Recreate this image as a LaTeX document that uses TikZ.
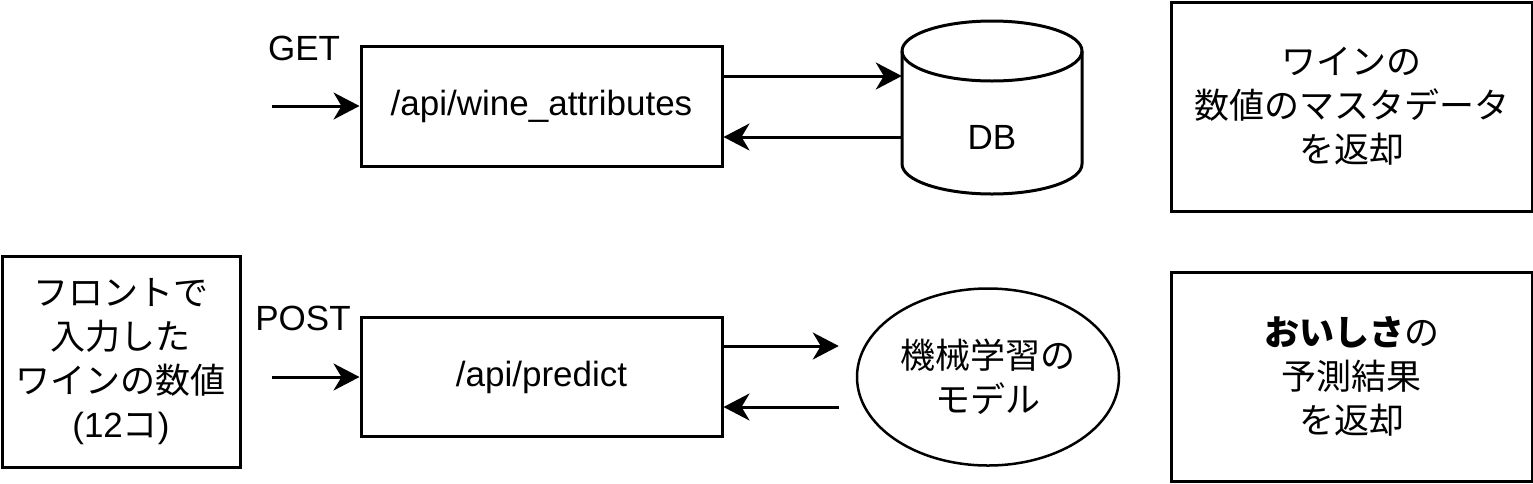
\documentclass[tikz,border=0pt]{standalone}
\usepackage{fontspec}
\setmainfont{Liberation Sans}
\newfontfamily\jpfont{Noto Sans CJK JP}
\usetikzlibrary{arrows.meta,shapes.geometric,calc}
\begin{document}
\begin{tikzpicture}[x=1pt,y=-1pt,
  every node/.style={font=\fontsize{35}{44}\selectfont},
  box/.style={draw, line width=3pt, inner sep=0pt, align=center},
  jp/.style={font=\jpfont\fontsize{35}{44}\selectfont},
  arr/.style={line width=3pt, -{Stealth[length=26pt,width=27pt,inset=8pt]}},
  lbl/.style={inner sep=0pt}]
\useasboundingbox (0,0) rectangle (1533,483);

% top row
\node[box, minimum width=361pt, minimum height=120pt] (api1) at (541.5,106) {/api/wine\_attributes};
\node[lbl] (get) at (304,48) {GET};
\coordinate (getin) at (272,106);
\draw[arr] (getin) -- (api1.west);

\draw[line width=3pt] (902,51) -- (902,164)
  arc[start angle=180,end angle=0,x radius=90,y radius=30] -- (1082,51)
  arc[start angle=0,end angle=-180,x radius=90,y radius=30] -- cycle;
\draw[line width=3pt] (902,51) arc[start angle=180,end angle=0,x radius=90,y radius=30];
\node[minimum width=180pt, inner sep=0pt] (db) at (992,137) {DB};
\draw[arr] ([yshift=30pt]api1.east) -- ([yshift=61pt]db.west);
\draw[arr] (db.west) -- ([yshift=-31pt]api1.east);

\node[box, jp, minimum width=361pt, minimum height=209pt] (res1) at (1351.5,106.5) {ワインの\\数値のマスタデータ\\を返却};

% bottom row
\node[box, jp, minimum width=238pt, minimum height=211pt] (front) at (121,361.5) {フロントで\\入力した\\ワインの数値\\{\rmfamily (12}コ{\rmfamily )}};
\node[lbl] (post) at (303,318) {POST};
\coordinate (postin) at (272,377);
\node[box, minimum width=361pt, minimum height=119pt] (api2) at (541.5,377) {/api/predict};
\draw[arr] (postin) -- (api2.west);

\node[draw, ellipse, line width=2.5pt, jp, align=center, inner sep=0pt, minimum width=262pt, minimum height=177pt] (ml) at (988,377) {機械学習の\\モデル};
\draw[arr] ([yshift=31pt]api2.east) -- ([xshift=-17pt,yshift=31pt]ml.west);
\draw[arr] ([xshift=-17pt,yshift=-30pt]ml.west) -- ([yshift=-30pt]api2.east);

\node[box, jp, minimum width=361pt, minimum height=209pt] (res2) at (1351.5,376.5) {\textbf{おいしさ}の\\予測結果\\を返却};
\end{tikzpicture}
\end{document}
